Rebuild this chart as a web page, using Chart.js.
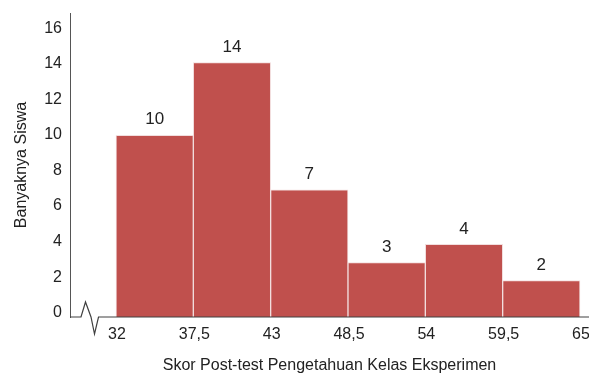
<!DOCTYPE html>
<html>
<head>
<meta charset="utf-8">
<script src="https://cdn.jsdelivr.net/npm/chart.js@4/dist/chart.umd.min.js"></script>
<style>
  html, body { margin: 0; padding: 0; background: #fff; }
  #wrap { width: 589px; height: 376px; position: relative; }
</style>
</head>
<body>
<div id="wrap"><canvas id="histChart"></canvas></div>
<script>
// class edges and frequencies
const binEdges = [32, 37.5, 43, 48.5, 54, 59.5, 65];
const frequencies = [10, 14, 7, 3, 4, 2];
const yTicks = [0, 2, 4, 6, 8, 10, 12, 14, 16];
const xTitle = 'Skor Post-test Pengetahuan Kelas Eksperimen';
const yTitle = 'Banyaknya Siswa';

const barColor = '#C0504D';
const fontFamily = '"Liberation Sans", Arial, sans-serif';

const points = frequencies.map((f, i) => ({ x: (binEdges[i] + binEdges[i + 1]) / 2, y: f }));

// value labels above bars
const valueLabels = {
    id: 'valueLabels',
    afterDatasetsDraw(chart) {
        const ctx = chart.ctx;
        const meta = chart.getDatasetMeta(0);
        ctx.save();
        ctx.font = '17px ' + fontFamily;
        ctx.fillStyle = '#222';
        ctx.textAlign = 'center';
        ctx.textBaseline = 'bottom';
        meta.data.forEach((bar, i) => {
            ctx.fillText(String(frequencies[i]), bar.x, bar.y - 7);
        });
        ctx.restore();
    }
};

// x axis line with a break mark near the origin
const axisBreak = {
    id: 'axisBreak',
    afterDraw(chart) {
        const ctx = chart.ctx;
        const a = chart.chartArea;
        const y = a.bottom;
        const x0 = a.left;
        ctx.save();
        ctx.strokeStyle = '#404040';
        ctx.lineWidth = 1.2;
        ctx.beginPath();
        ctx.moveTo(x0, y);
        ctx.lineTo(x0 + 11, y);
        ctx.lineTo(x0 + 15.5, y - 15);
        ctx.lineTo(x0 + 21, y);
        ctx.lineTo(x0 + 24.5, y + 17);
        ctx.lineTo(x0 + 28.5, y);
        ctx.lineTo(a.right, y);
        ctx.stroke();
        ctx.restore();
    }
};

new Chart(document.getElementById('histChart').getContext('2d'), {
    type: 'bar',
    data: {
        datasets: [{
            data: points,
            backgroundColor: barColor,
            borderColor: '#f2dede',
            borderWidth: 1,
            barPercentage: 1,
            categoryPercentage: 1
        }]
    },
    options: {
        responsive: true,
        maintainAspectRatio: false,
        animation: false,
        layout: { padding: { top: 13, right: 0, left: 0, bottom: 0 } },
        plugins: {
            legend: { display: false },
            tooltip: { enabled: false }
        },
        scales: {
            x: {
                type: 'linear',
                offset: false,
                min: 28.73,
                max: 65.64,
                afterBuildTicks: s => { s.ticks = binEdges.map(v => ({ value: v })); },
                afterFit: s => { s.height = 59; s.paddingLeft = 0; s.paddingRight = 0; },
                grid: { display: false, drawTicks: false, offset: false },
                border: { display: false },
                ticks: {
                    autoSkip: false,
                    maxRotation: 0,
                    padding: 8,
                    labelOffset: 1,
                    color: '#222',
                    font: { family: fontFamily, size: 16 },
                    callback: v => String(v).replace('.', ',')
                },
                title: {
                    display: true,
                    text: xTitle,
                    color: '#222',
                    font: { family: fontFamily, size: 16 },
                    padding: { top: 0, bottom: 1 }
                }
            },
            // value scale for the bars
            y: {
                display: false,
                min: 0,
                max: 16.73
            },
            // visible axis with the tick labels
            yl: {
                position: 'left',
                min: -0.24,
                max: 16.86,
                afterBuildTicks: s => { s.ticks = yTicks.map(v => ({ value: v })); },
                afterFit: s => { s.width = 70; s.paddingTop = 0; s.paddingBottom = 0; },
                grid: { display: false, drawTicks: false },
                border: { display: true, color: '#555', width: 1 },
                ticks: {
                    padding: 8,
                    color: '#222',
                    font: { family: fontFamily, size: 16 }
                },
                title: {
                    display: true,
                    text: yTitle,
                    color: '#222',
                    font: { family: fontFamily, size: 16 },
                    padding: { top: 12, bottom: 0 }
                }
            }
        }
    },
    plugins: [valueLabels, axisBreak]
});
</script>
</body>
</html>
